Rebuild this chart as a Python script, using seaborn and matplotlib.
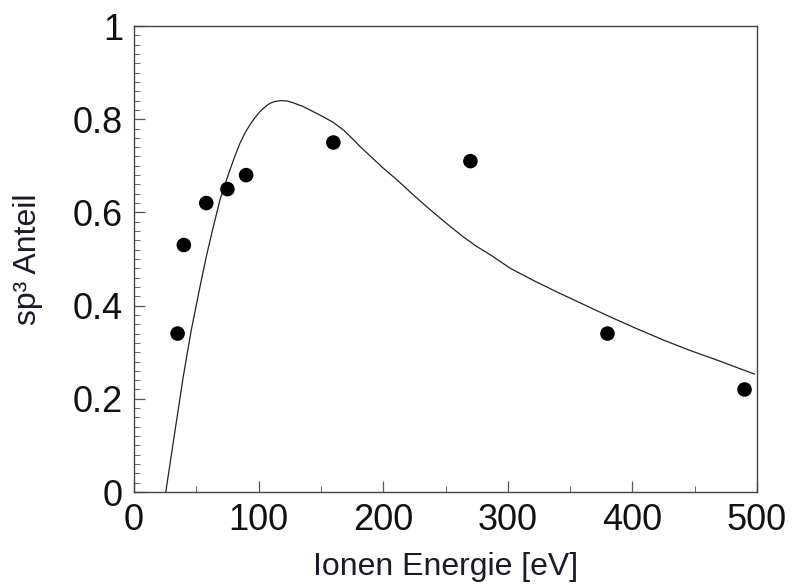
import matplotlib
matplotlib.use("Agg")
import matplotlib.pyplot as plt
from matplotlib.ticker import MultipleLocator, FuncFormatter
import seaborn as sns
import pandas as pd

# Measured points
energy_pts = [35, 40, 58, 75, 90, 160, 270, 380, 490]
sp3_pts = [0.34, 0.53, 0.62, 0.65, 0.68, 0.75, 0.71, 0.34, 0.22]

# Model curve
energy_curve = [25.5, 33, 39.5, 46, 53, 58, 63, 69, 73, 77, 81, 85, 89, 93, 97,
                101, 105, 109, 113, 118, 123, 128, 136, 144, 152, 160, 168, 175,
                182, 190, 200, 211, 224, 238, 251, 264, 275, 286, 302, 322, 342,
                362, 382, 403, 425, 446, 468, 498]
sp3_curve = [0.0, 0.133, 0.247, 0.348, 0.441, 0.505, 0.562, 0.627, 0.660, 0.691,
             0.721, 0.748, 0.770, 0.788, 0.803, 0.816, 0.826, 0.834, 0.838,
             0.840, 0.839, 0.835, 0.827, 0.816, 0.805, 0.793, 0.777, 0.759,
             0.740, 0.720, 0.695, 0.670, 0.638, 0.605, 0.576, 0.548, 0.527,
             0.509, 0.480, 0.452, 0.426, 0.401, 0.376, 0.351, 0.326, 0.304,
             0.283, 0.253]

x_ticks = [0, 100, 200, 300, 400, 500]
y_ticks = [0, 0.2, 0.4, 0.6, 0.8, 1.0]

sns.set_style("ticks")
plt.rcParams['font.family'] = ['Liberation Sans', 'DejaVu Sans']

fig = plt.figure(figsize=(7.92, 5.86), dpi=100)
ax = fig.add_axes([134 / 792, 1 - 492 / 586, (757 - 134) / 792, (492 - 26) / 586])

df_curve = pd.DataFrame({"E": energy_curve, "sp3": sp3_curve})
df_pts = pd.DataFrame({"E": energy_pts, "sp3": sp3_pts})

sns.lineplot(data=df_curve, x="E", y="sp3", ax=ax, color="#222222",
             linewidth=0.9, sort=False)
sns.scatterplot(data=df_pts, x="E", y="sp3", ax=ax, color="black", s=110,
                edgecolor="none", zorder=3)

ax.set_xlim(0, 500)
ax.set_ylim(0, 1)
ax.set_xticks(x_ticks)
ax.set_yticks(y_ticks)
ax.xaxis.set_minor_locator(MultipleLocator(50))
ax.yaxis.set_minor_locator(MultipleLocator(0.02))
ax.yaxis.set_major_formatter(FuncFormatter(lambda v, p: f"{v:g}"))

for s in ax.spines.values():
    s.set_visible(True)
    s.set_color("#444444")
    s.set_linewidth(1.0)

ax.tick_params(axis="both", which="major", direction="in", length=8, width=0.9,
               color="#555555", labelsize=26, labelcolor="#111111")
ax.tick_params(axis="both", which="minor", direction="in", length=4, width=0.7,
               color="#666666")
ax.tick_params(axis="x", which="major", pad=8)
ax.tick_params(axis="y", which="major", pad=8)

ax.set_xlabel("Ionen Energie [eV]", fontsize=23, color="#1a1a2a", labelpad=10)
ax.set_ylabel("sp³ Anteil", fontsize=23, color="#1a1a2a", labelpad=21)

fig.savefig("out.png", dpi=100)
